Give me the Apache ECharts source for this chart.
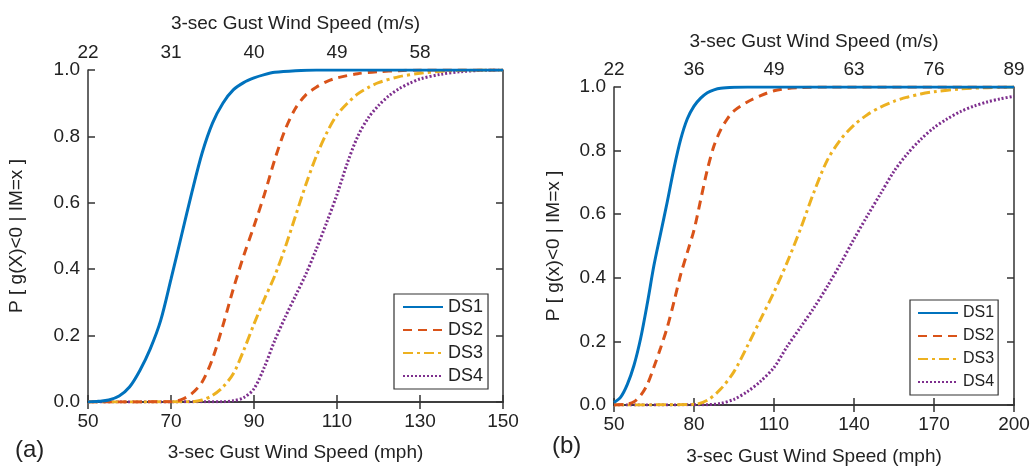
<!DOCTYPE html>
<html>
<head>
<meta charset="utf-8">
<script src="https://cdn.jsdelivr.net/npm/echarts@6/dist/echarts.min.js"></script>
<style>
  html, body { margin: 0; padding: 0; background: #fff; }
  #main { width: 1033px; height: 471px; }
</style>
</head>
<body>
<div id="main"></div>
<script>
// tick labels
const mphTicksA = [50, 70, 90, 110, 130, 150];
const msTicksA = [22, 31, 40, 49, 58];
const mphTicksB = [50, 80, 110, 140, 170, 200];
const msTicksB = [22, 36, 49, 63, 76, 89];
const seriesNames = ['DS1', 'DS2', 'DS3', 'DS4'];

// panel (a) curves: [mph, probability]
const ds1A = [[50,0],[52.5,0.002],[55,0.006],[57.5,0.018],[60,0.045],[62.5,0.095],[65,0.16],[67.5,0.245],[70,0.37],[72.5,0.5],[75,0.63],[77.5,0.75],[80,0.84],[82.5,0.9],[85,0.94],[87.5,0.962],[90,0.976],[92.5,0.986],[95,0.993],[100,0.998],[105,1],[150,1]];
const ds2A = [[50,0],[70,0.001],[72.5,0.007],[75,0.025],[77.5,0.06],[80,0.13],[82.5,0.23],[85,0.34],[87.5,0.44],[90,0.53],[92.5,0.625],[95,0.73],[97.5,0.82],[100,0.885],[102.5,0.925],[105,0.948],[107.5,0.965],[110,0.976],[115,0.989],[120,0.995],[125,0.998],[130,1],[150,1]];
const ds3A = [[50,0],[75,0.001],[77.5,0.006],[80,0.02],[82.5,0.045],[85,0.085],[87.5,0.155],[90,0.235],[92.5,0.31],[95,0.38],[97.5,0.465],[100,0.56],[102.5,0.655],[105,0.74],[107.5,0.81],[110,0.865],[112.5,0.9],[115,0.928],[117.5,0.947],[120,0.962],[125,0.98],[130,0.99],[135,0.996],[140,0.999],[150,1]];
const ds4A = [[50,0],[82.5,0.001],[85,0.004],[87.5,0.013],[90,0.04],[92.5,0.105],[95,0.185],[97.5,0.255],[100,0.32],[102.5,0.385],[105,0.46],[107.5,0.54],[110,0.625],[112.5,0.72],[115,0.8],[117.5,0.855],[120,0.893],[122.5,0.922],[125,0.944],[127.5,0.96],[130,0.973],[135,0.987],[140,0.995],[145,0.999],[150,1]];

// panel (b) curves
const ds1B = [[50,0.008],[52.5,0.025],[55,0.065],[57.5,0.125],[60,0.21],[62.5,0.32],[65,0.44],[67.5,0.54],[70,0.64],[72.5,0.745],[75,0.835],[77.5,0.9],[80,0.94],[82.5,0.965],[85,0.982],[87.5,0.991],[90,0.996],[95,0.999],[100,1],[200,1]];
const ds2B = [[50,0],[55,0.003],[57.5,0.01],[60,0.03],[62.5,0.065],[65,0.12],[67.5,0.18],[70,0.245],[72.5,0.325],[75,0.41],[77.5,0.48],[80,0.55],[82.5,0.645],[85,0.74],[87.5,0.815],[90,0.865],[92.5,0.9],[95,0.925],[100,0.953],[105,0.973],[110,0.988],[115,0.995],[120,0.998],[130,1],[200,1]];
const ds3B = [[50,0],[80,0.002],[85,0.015],[90,0.05],[95,0.105],[100,0.185],[105,0.27],[110,0.355],[115,0.45],[120,0.555],[125,0.67],[130,0.77],[135,0.835],[140,0.88],[145,0.913],[150,0.937],[155,0.955],[160,0.968],[165,0.978],[170,0.985],[180,0.994],[190,0.998],[200,1]];
const ds4B = [[50,0],[85,0.001],[90,0.005],[95,0.018],[100,0.042],[105,0.075],[110,0.118],[115,0.185],[120,0.245],[125,0.306],[130,0.373],[135,0.445],[140,0.522],[145,0.595],[150,0.665],[155,0.735],[160,0.79],[165,0.835],[170,0.872],[175,0.9],[180,0.923],[185,0.94],[190,0.953],[195,0.963],[200,0.971]];

const FONT = 'Liberation Sans';
const AXIS_COLOR = '#333';
const TEXT_COLOR = '#222';

const styles = [
  { color: '#0072BD', type: 'solid' },
  { color: '#D95319', type: [9, 6] },
  { color: '#EDB120', type: [10, 4, 3, 4] },
  { color: '#7E2F8E', type: [2, 2] }
];

var chart = echarts.init(document.getElementById('main'));

function bottomAxis(gridIndex, ticks, max, nameGap) {
  return {
    type: 'value', gridIndex: gridIndex, position: 'bottom',
    min: ticks[0], max: max,
    name: '3-sec Gust Wind Speed (mph)', nameLocation: 'middle', nameGap: nameGap,
    nameTextStyle: { fontFamily: FONT, fontSize: 19, color: TEXT_COLOR },
    axisLine: { lineStyle: { color: AXIS_COLOR, width: 1.5 } },
    axisTick: { inside: true, length: 7, customValues: ticks, lineStyle: { color: AXIS_COLOR, width: 1.5 } },
    axisLabel: { customValues: ticks, margin: 10, fontFamily: FONT, fontSize: 19, color: TEXT_COLOR },
    splitLine: { show: false }
  };
}

function topAxis(gridIndex, mphTicks, msTicks, max, nameGap) {
  return {
    type: 'value', gridIndex: gridIndex, position: 'top',
    min: mphTicks[0], max: max,
    name: '3-sec Gust Wind Speed (m/s)', nameLocation: 'middle', nameGap: nameGap,
    nameTextStyle: { fontFamily: FONT, fontSize: 19, color: TEXT_COLOR },
    axisLine: { lineStyle: { color: AXIS_COLOR, width: 1.5 } },
    axisTick: { inside: true, length: 7, customValues: mphTicks, lineStyle: { color: AXIS_COLOR, width: 1.5 } },
    axisLabel: {
      customValues: mphTicks.slice(0, msTicks.length), margin: 8,
      fontFamily: FONT, fontSize: 19, color: TEXT_COLOR,
      formatter: function (v) { return String(msTicks[mphTicks.indexOf(v)]); }
    },
    splitLine: { show: false }
  };
}

function leftAxis(gridIndex, name, nameGap) {
  return {
    type: 'value', gridIndex: gridIndex, position: 'left',
    min: 0, max: 1, interval: 0.2,
    name: name, nameLocation: 'middle', nameGap: nameGap,
    nameTextStyle: { fontFamily: FONT, fontSize: 19, color: TEXT_COLOR },
    axisLine: { show: true, lineStyle: { color: AXIS_COLOR, width: 1.5 } },
    axisTick: { show: true, inside: true, length: 7, lineStyle: { color: AXIS_COLOR, width: 1.5 } },
    axisLabel: { margin: 8, fontFamily: FONT, fontSize: 19, color: TEXT_COLOR,
      formatter: function (v) { return v.toFixed(1); } },
    splitLine: { show: false }
  };
}

function rightAxis(gridIndex) {
  return {
    type: 'value', gridIndex: gridIndex, position: 'right',
    min: 0, max: 1, interval: 0.2,
    axisLine: { show: true, lineStyle: { color: AXIS_COLOR, width: 1.5 } },
    axisTick: { show: true, inside: true, length: 7, lineStyle: { color: AXIS_COLOR, width: 1.5 } },
    axisLabel: { show: false },
    splitLine: { show: false }
  };
}

function makeSeries(data, i, xIdx, yIdx) {
  return {
    name: seriesNames[i], type: 'line',
    xAxisIndex: xIdx, yAxisIndex: yIdx,
    data: data, showSymbol: false, symbol: 'none',
    smooth: 0.3,
    lineStyle: { color: styles[i].color, type: styles[i].type, width: 3 },
    itemStyle: { color: styles[i].color },
    z: 5 - i
  };
}

function makeLegend(left, top, fontSize, padding) {
  return {
    left: left, top: top, orient: 'vertical',
    data: seriesNames,
    itemWidth: 40, itemHeight: 12, itemGap: 3,
    padding: padding,
    borderColor: AXIS_COLOR, borderWidth: 1.2, borderRadius: 0,
    backgroundColor: '#fff',
    selectedMode: false,
    // hide the circle marker, keep only the line sample
    itemStyle: { color: 'rgba(0,0,0,0)', borderWidth: 0, opacity: 0 },
    textStyle: { fontFamily: FONT, fontSize: fontSize, color: TEXT_COLOR, lineHeight: 20 }
  };
}

var option = {
  animation: false,
  backgroundColor: '#fff',
  grid: [
    { left: 88, top: 70, width: 415, height: 332 },
    { left: 614, top: 87, width: 400, height: 319 }
  ],
  xAxis: [
    bottomAxis(0, mphTicksA, 150, 41),
    topAxis(0, mphTicksA, msTicksA, 150, 37),
    bottomAxis(1, mphTicksB, 200, 42),
    topAxis(1, mphTicksB, msTicksB, 200, 36)
  ],
  yAxis: [
    leftAxis(0, 'P [ g(X)<0 | IM=x ]', 62),
    rightAxis(0),
    leftAxis(1, 'P [ g(x)<0 | IM=x ]', 51),
    rightAxis(1)
  ],
  legend: [
    makeLegend(394, 294, 18, [3, 5, 3, 8]),
    makeLegend(910, 300, 16, [3, 4, 3, 7])
  ],
  graphic: [
    { type: 'text', left: 15, top: 438, style: { text: '(a)', font: '24px ' + FONT, fill: TEXT_COLOR } },
    { type: 'text', left: 552, top: 434, style: { text: '(b)', font: '24px ' + FONT, fill: TEXT_COLOR } }
  ],
  series: [
    makeSeries(ds1A, 0, 0, 0),
    makeSeries(ds2A, 1, 0, 0),
    makeSeries(ds3A, 2, 0, 0),
    makeSeries(ds4A, 3, 0, 0),
    makeSeries(ds1B, 0, 2, 2),
    makeSeries(ds2B, 1, 2, 2),
    makeSeries(ds3B, 2, 2, 2),
    makeSeries(ds4B, 3, 2, 2)
  ]
};

chart.setOption(option);
</script>
</body>
</html>
